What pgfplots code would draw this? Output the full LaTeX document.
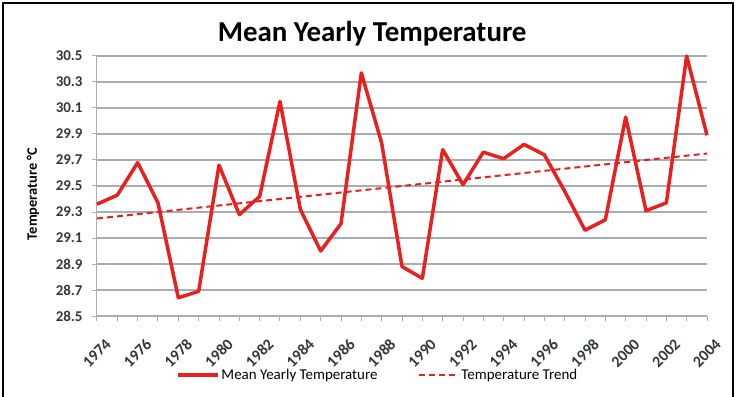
\documentclass[border=0pt]{standalone}
\usepackage{fontspec}
\setmainfont{Carlito}
\usepackage{pgfplots}
\pgfplotsset{compat=1.18}
\definecolor{gridgray}{RGB}{168,174,182}
\definecolor{linered}{RGB}{232,32,30}
\definecolor{labelgray}{RGB}{50,55,60}
\begin{document}
\begin{tikzpicture}
\useasboundingbox (-97bp,-81bp) rectangle (639bp,316bp);
\draw[black, line width=2bp] (-94bp,-85bp) -- (-94bp,313bp) -- (636bp,313bp) -- (636bp,-85bp);
\begin{axis}[
    scale only axis,
    width=610bp, height=260bp,
    xmin=1974, xmax=2004,
    ymin=28.5, ymax=30.5,
    xtick={1974,1976,...,2004},
    minor xtick={1975,1977,...,2003},
    ytick={28.5,28.7,...,30.5},
    x tick label style={/pgf/number format/1000 sep={}, rotate=45, anchor=east, font=\bfseries\fontsize{16}{16}\selectfont, text=labelgray, inner sep=0pt, yshift=-22.5bp, xshift=-6.5bp},
    y tick label style={/pgf/number format/fixed, /pgf/number format/fixed zerofill, /pgf/number format/precision=1, font=\bfseries\fontsize{15}{15}\selectfont, text=labelgray, xshift=-6bp},
    /pgf/number format/assume math mode=true,
    axis x line*=bottom,
    axis y line*=left,
    axis line style={gridgray, line width=1bp},
    tick style={gridgray, line width=1bp},
    major tick length=5bp, minor tick length=5bp,
    tick align=outside,
    ymajorgrids,
    grid style={gridgray, line width=1.2bp},
    title={\bfseries Mean Yearly Temperature},
    title style={at={(0.451,1)}, anchor=base, yshift=9bp, font=\fontsize{29}{29}\selectfont},
    ylabel={\bfseries Temperature °C},
    ylabel style={at={(axis description cs:-0.105,0.47)}, anchor=center, font=\fontsize{14.5}{14.5}\selectfont},
    legend columns=2,
    legend style={draw=none, fill=none, at={(0.46,-0.227)}, anchor=center, font=\fontsize{15}{15}\selectfont, /tikz/every even column/.append style={column sep=38bp}},
    legend image code/.code={\draw[#1] (0bp,0bp) -- (40bp,0bp);},
    clip=false,
]
\addplot[linered, line width=3.5bp, line join=round] coordinates {
(1974,29.36) (1975,29.43) (1976,29.68) (1977,29.37) (1978,28.64) (1979,28.69)
(1980,29.66) (1981,29.28) (1982,29.42) (1983,30.15) (1984,29.32) (1985,29.00)
(1986,29.21) (1987,30.37) (1988,29.83) (1989,28.88) (1990,28.79) (1991,29.78)
(1992,29.51) (1993,29.76) (1994,29.71) (1995,29.82) (1996,29.74) (1997,29.46)
(1998,29.16) (1999,29.24) (2000,30.03) (2001,29.31) (2002,29.37) (2003,30.50)
(2004,29.89)};
\addlegendentry{Mean Yearly Temperature}
\addplot[linered, line width=2bp, dash pattern=on 6bp off 4bp] coordinates {
(1974,29.25) (2004,29.75)};
\addlegendentry{Temperature Trend}
\end{axis}
\end{tikzpicture}
\end{document}
